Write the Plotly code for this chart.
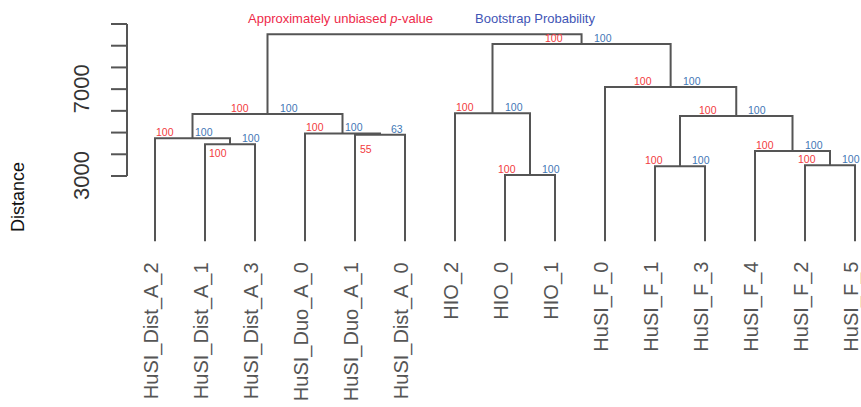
import plotly.graph_objects as go

# ---- data -------------------------------------------------------------
leaf_labels = [
    "HuSI_Dist_A_2", "HuSI_Dist_A_1", "HuSI_Dist_A_3", "HuSI_Duo_A_0",
    "HuSI_Duo_A_1", "HuSI_Dist_A_0", "HIO_2", "HIO_0", "HIO_1",
    "HuSI_F_0", "HuSI_F_1", "HuSI_F_3", "HuSI_F_4", "HuSI_F_2", "HuSI_F_5",
]

# hclust-style merge table: negative = leaf (1-based position in leaf_labels),
# positive = an earlier merge (1-based row)
merge_left = [-8, -11, -14, -13, -2, -1, -5, -4, 2, 6, -7, -10, 11, 10]
merge_right = [-9, -12, -15, 3, -3, 5, -6, 7, 4, 8, 1, 9, 12, 13]
merge_height = [3046, 3447, 3493, 4151, 4460, 4740, 4900, 4960,
                5763, 5855, 5887, 7099, 9079, 9526]

# pvclust support values for every merge below the root
au_values = [100, 100, 100, 100, 100, 100, 55, 100, 100, 100, 100, 100, 100]
bp_values = [100, 100, 100, 100, 100, 100, 63, 100, 100, 100, 100, 100, 100]

y_ticks = [3000, 4000, 5000, 6000, 7000, 8000, 9000, 10000]
y_tick_labels = {3000: "3000", 7000: "7000"}

# ---- styling ----------------------------------------------------------
FONT = "Liberation Sans, Arial, Helvetica, sans-serif"
LINE_COL = "#555555"
AU_COL = "#f23a40"
BP_COL = "#3f78b6"
W, H = 861, 407
X_RANGE = [-2.1, 15.12]
Y_RANGE = [-7638, 11105]

# label placement per merge (pixel gaps from the node)
label_place = {i: dict(au_gap=17, bp_gap=10, au_below=False, au_drop=0)
               for i in range(1, len(au_values) + 1)}
label_place[1]["au_gap"] = 12
label_place[2]["au_gap"] = 15
label_place[3]["au_gap"] = 12
label_place[5].update(au_below=True, au_gap=1, au_drop=2)
label_place[6]["bp_gap"] = 0
label_place[7].update(au_below=True, au_gap=6, au_drop=7, bp_gap=9)
label_place[8]["bp_gap"] = 0

# ---- tree geometry ----------------------------------------------------
node_x, node_h = {}, {}


def child_pos(ref):
    if ref < 0:
        return float(-ref), 0.0
    return node_x[ref], node_h[ref]


xs, ys = [], []
for k, (a, b, h) in enumerate(zip(merge_left, merge_right, merge_height), start=1):
    xa, ha = child_pos(a)
    xb, hb = child_pos(b)
    node_x[k] = (xa + xb) / 2
    node_h[k] = h
    xs += [xa, xa, xb, xb, None]
    ys += [ha, h, h, hb, None]

fig = go.Figure()
fig.add_trace(go.Scatter(x=xs, y=ys, mode="lines",
                         line=dict(color=LINE_COL, width=2),
                         hoverinfo="skip", showlegend=False))

ann = []

# AU / BP values at each non-root merge
for k in range(1, len(au_values) + 1):
    p = label_place[k]
    au_font = dict(family=FONT, size=10.5, color=AU_COL)
    if p["au_below"]:
        ann.append(dict(x=node_x[k], y=node_h[k], text=str(au_values[k - 1]),
                        xanchor="right", yanchor="top", xshift=-p["au_gap"],
                        yshift=-p["au_drop"] + 1, showarrow=False, font=au_font))
    else:
        ann.append(dict(x=node_x[k], y=node_h[k], text=str(au_values[k - 1]),
                        xanchor="right", yanchor="bottom", xshift=-p["au_gap"],
                        yshift=-2, showarrow=False, font=au_font))
    ann.append(dict(x=node_x[k], y=node_h[k], text=str(bp_values[k - 1]),
                    xanchor="left", yanchor="bottom", xshift=p["bp_gap"],
                    yshift=-2, showarrow=False,
                    font=dict(family=FONT, size=10.5, color=BP_COL)))

# leaf labels
for i, lab in enumerate(leaf_labels, start=1):
    ann.append(dict(x=i, y=0, text=lab, textangle=-90, xanchor="center",
                    yanchor="top", xshift=-3.5, yshift=-19, showarrow=False,
                    font=dict(family=FONT, size=20, color="#555555")))

# y axis drawn from tick values
axis_x = 127 / W
tick_x0 = 111 / W
shapes = [dict(type="line", xref="paper", yref="y", x0=axis_x, x1=axis_x,
               y0=min(y_ticks), y1=max(y_ticks),
               line=dict(color=LINE_COL, width=2))]
for t in y_ticks:
    shapes.append(dict(type="line", xref="paper", yref="y", x0=tick_x0, x1=axis_x,
                       y0=t, y1=t, line=dict(color=LINE_COL, width=2)))
for t, lab in y_tick_labels.items():
    ann.append(dict(x=81 / W, xref="paper", y=t, text=lab, textangle=-90,
                    xanchor="center", yanchor="middle", showarrow=False,
                    font=dict(family=FONT, size=22, color="#333333")))

ann.append(dict(x=18 / W, xref="paper", y=1 - 197 / H, yref="paper",
                text="Distance", textangle=-90, xanchor="center",
                yanchor="middle", showarrow=False,
                font=dict(family=FONT, size=18, color="#111111")))

# header legend text
ann.append(dict(x=246 / W, xref="paper", y=1 - 18.5 / H, yref="paper",
                text="Approximately unbiased <i>p</i>-value", xanchor="left",
                yanchor="middle", showarrow=False,
                font=dict(family=FONT, size=13, color="#ee2a4a")))
ann.append(dict(x=473 / W, xref="paper", y=1 - 18.5 / H, yref="paper",
                text="Bootstrap Probability", xanchor="left",
                yanchor="middle", showarrow=False,
                font=dict(family=FONT, size=13, color="#3f55b5")))

fig.update_layout(
    width=W, height=H,
    margin=dict(l=0, r=0, t=0, b=0),
    paper_bgcolor="white", plot_bgcolor="white",
    xaxis=dict(range=X_RANGE, visible=False, fixedrange=True),
    yaxis=dict(range=Y_RANGE, visible=False, fixedrange=True),
    annotations=ann, shapes=shapes,
    showlegend=False,
)

fig.write_html("out.html")
